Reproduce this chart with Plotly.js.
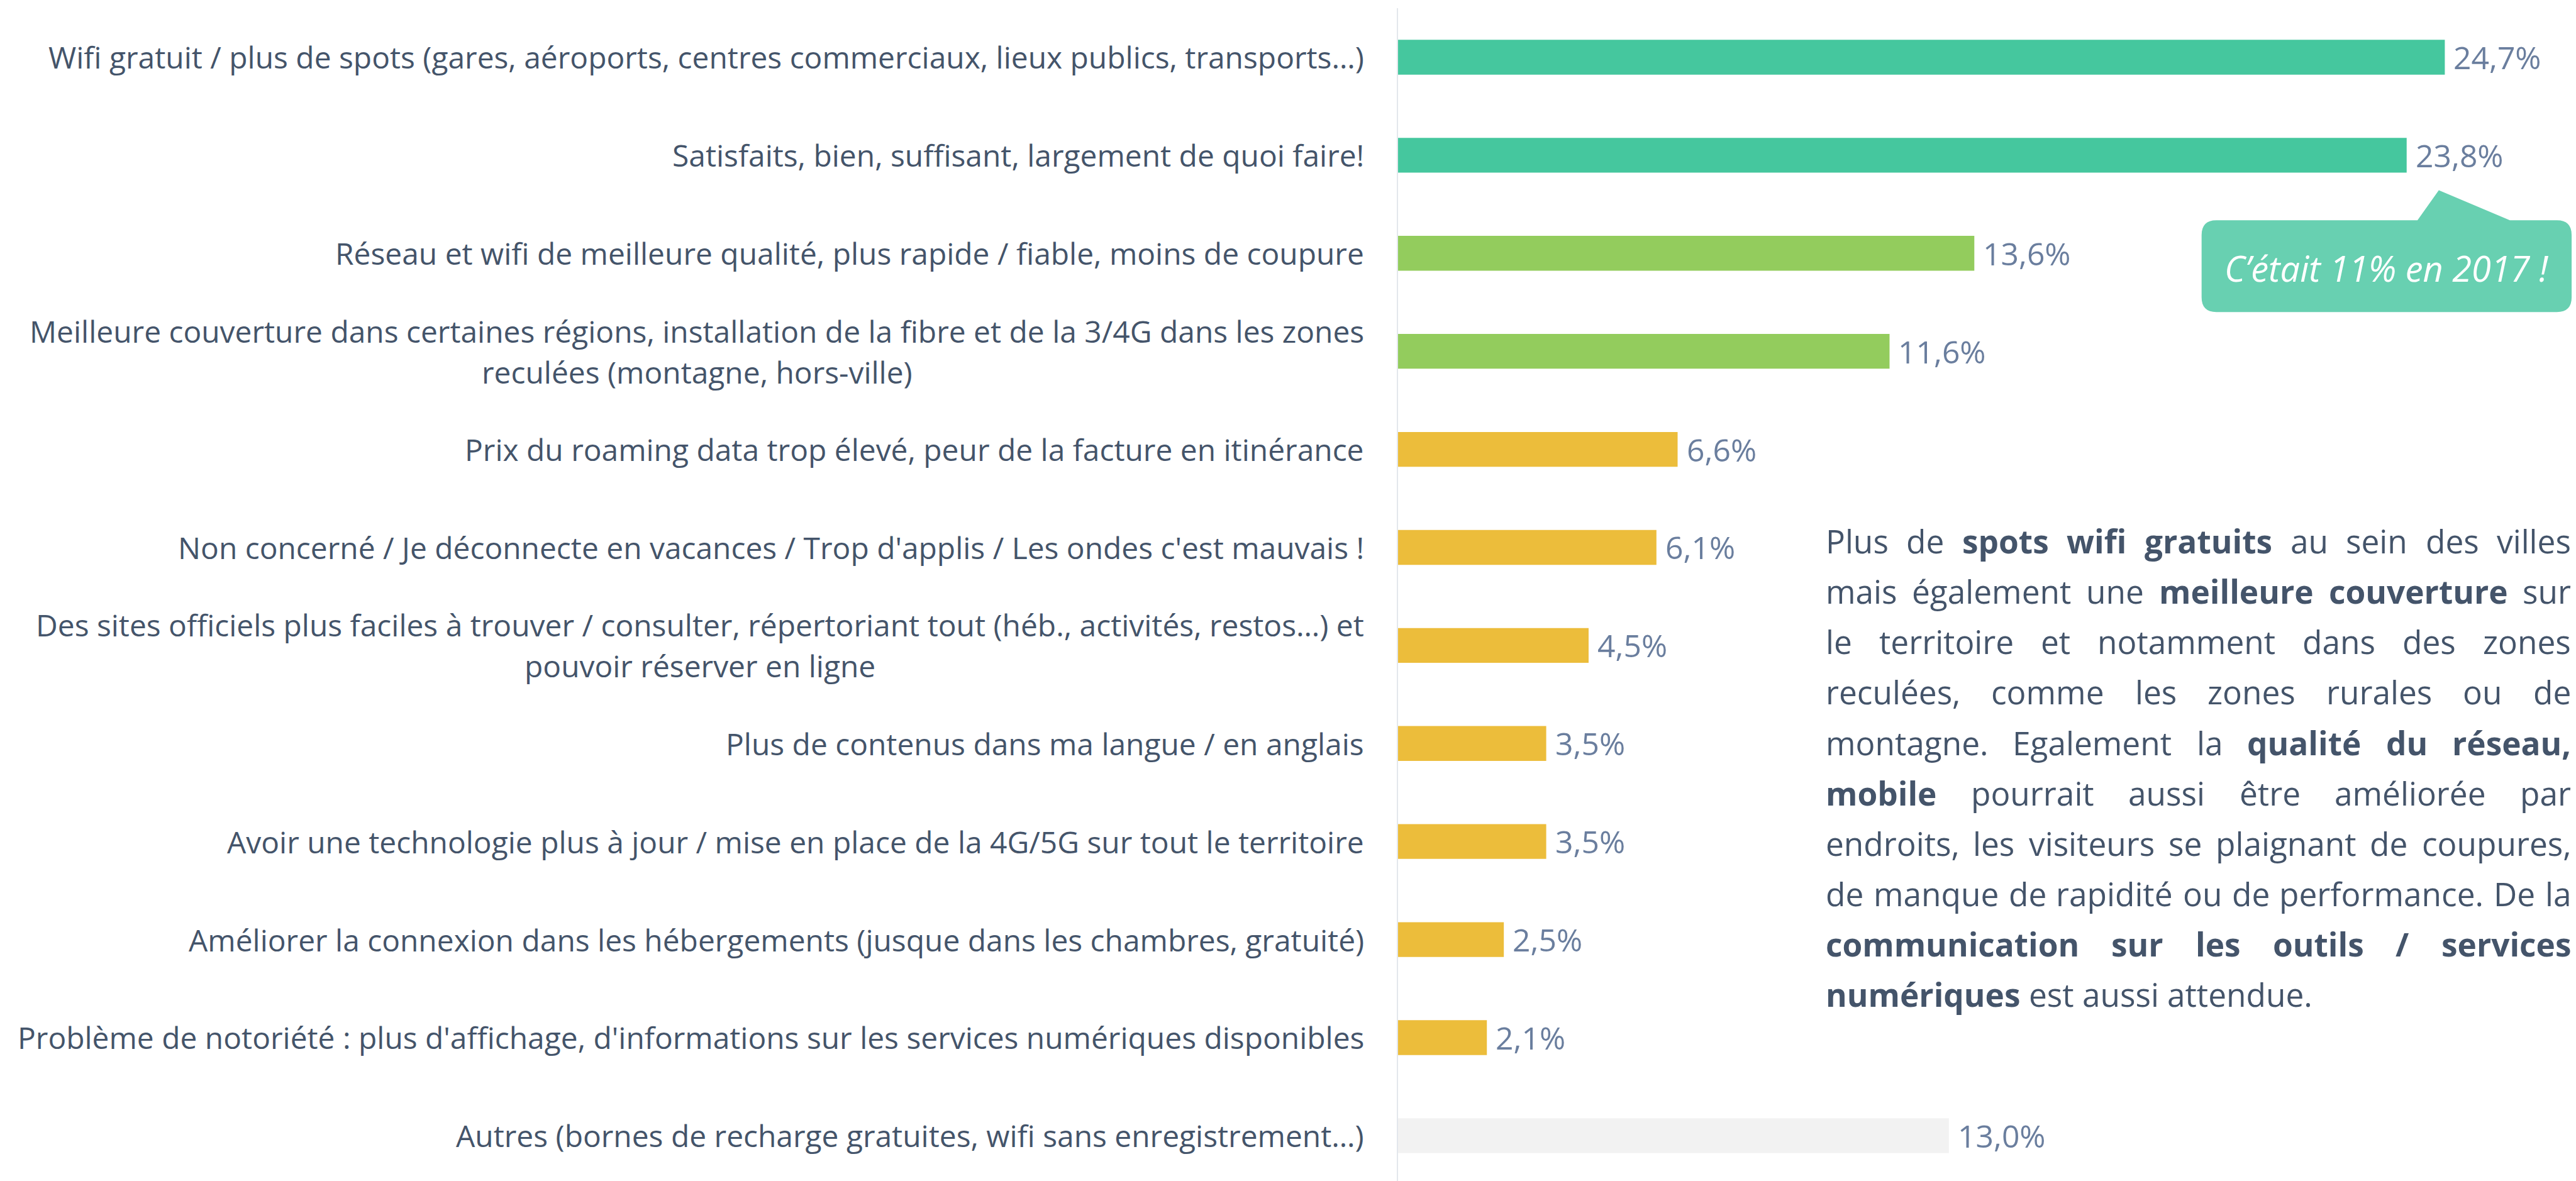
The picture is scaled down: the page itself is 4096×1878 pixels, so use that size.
<!DOCTYPE html>
<html>
<head>
<meta charset="utf-8">
<script src="https://cdn.plot.ly/plotly-3.0.1.min.js"></script>
<style>
html,body{margin:0;padding:0;background:#ffffff;overflow:hidden}
#chart{width:4096px;height:1878px}
</style>
</head>
<body>
<div id="chart"></div>
<script>
// ---------------- DATA ----------------
const categories = [
  "Wifi gratuit / plus de spots (gares, aéroports, centres commerciaux, lieux publics, transports…)",
  "Satisfaits, bien, suffisant, largement de quoi faire!",
  "Réseau et wifi de meilleure qualité, plus rapide / fiable, moins de coupure",
  "Meilleure couverture dans certaines régions, installation de la fibre et de la 3/4G dans les zones<br>reculées (montagne, hors-ville)",
  "Prix du roaming data trop élevé, peur de la facture en itinérance",
  "Non concerné / Je déconnecte en vacances / Trop d'applis / Les ondes c'est mauvais !",
  "Des sites officiels plus faciles à trouver / consulter, répertoriant tout (héb., activités, restos…) et<br>pouvoir réserver en ligne",
  "Plus de contenus dans ma langue / en anglais",
  "Avoir une technologie plus à jour / mise en place de la 4G/5G sur tout le territoire",
  "Améliorer la connexion dans les hébergements (jusque dans les chambres, gratuité)",
  "Problème de notoriété : plus d'affichage, d'informations sur les services numériques disponibles",
  "Autres (bornes de recharge gratuites, wifi sans enregistrement…)"
];
const values = [24.7, 23.8, 13.6, 11.6, 6.6, 6.1, 4.5, 3.5, 3.5, 2.5, 2.1, 13.0];
const valueLabels = ["24,7%", "23,8%", "13,6%", "11,6%", "6,6%", "6,1%", "4,5%", "3,5%", "3,5%", "2,5%", "2,1%", "13,0%"];
const calloutText = "C’était 11% en 2017 !";
const paragraphLines = [
  "Plus de <b>spots wifi gratuits</b> au sein des villes",
  "mais également une <b>meilleure couverture</b> sur",
  "le territoire et notamment dans des zones",
  "reculées, comme les zones rurales ou de",
  "montagne. Egalement la <b>qualité du réseau,</b>",
  "<b>mobile</b> pourrait aussi être améliorée par",
  "endroits, les visiteurs se plaignant de coupures,",
  "de manque de rapidité ou de performance. De la",
  "<b>communication sur les outils / services</b>",
  "<b>numériques</b> est aussi attendue."
];

// ---------------- STYLE ----------------
const barColors = ["#45c79e", "#45c79e", "#93cc5d", "#93cc5d", "#ecbd3b", "#ecbd3b",
                   "#ecbd3b", "#ecbd3b", "#ecbd3b", "#ecbd3b", "#ecbd3b", "#f2f2f2"];
const TEXT_COLOR = "#44546a";
const VALUE_COLOR = "#6a7e9e";
const CALLOUT_COLOR = "#68d0b1";
const AXIS_COLOR = "#e3e7ec";
const FONT = '"Open Sans", "Noto Sans", sans-serif';

const W = 4096, H = 1878;
const RW = 4713, RH = 2161;           // reference size
const S = W / RW;                     // 0.869

// text measuring
const ctx = document.createElement('canvas').getContext('2d');
function textWidth(txt, size, weight, style) {
  ctx.font = (style || 'normal') + ' ' + (weight || 'normal') + ' ' + size + 'px ' + FONT;
  return ctx.measureText(txt).width;
}
function plain(s) { return s.replace(/<[^>]+>/g, ''); }

// font sizes (window px), fitted to the widths measured on the reference
const labelSize = Math.min(52, 100 * (2408 * S) / textWidth(plain(categories[0]), 100));
const valueSize = labelSize * 1.04;
const paraSize = 100 * (891 * S) / (textWidth("numériques", 100, 'bold') + textWidth(" est aussi attendue.", 100));
const calloutSize = 100 * (592 * S) / textWidth(calloutText, 100, 'normal', 'italic');

// geometry in reference px
const axisX = 2557.5, axisTop = 15;
const slot = 179.38;
const labelRight = 2496;
const pctPx = 77.55;

const plotH = H * (1 - axisTop / RH);
const yBottom = -0.5 + plotH / (slot * S);
const xMax = (W - axisX * S) / (pctPx * S);

const annotations = [];

// category labels
categories.forEach(function (cat) {
  const lines = cat.split('<br>');
  const base = {
    xref: 'paper', yref: 'y', y: cat, yanchor: 'middle', showarrow: false,
    borderpad: 0, borderwidth: 0,
    font: {family: FONT, size: labelSize, color: TEXT_COLOR}
  };
  if (lines.length === 1) {
    annotations.push(Object.assign({}, base, {x: labelRight / RW, xanchor: 'right', text: lines[0]}));
  } else {
    const gap = 75 * S;
    const w1 = textWidth(lines[0], labelSize);
    annotations.push(Object.assign({}, base, {x: labelRight / RW, xanchor: 'right', text: lines[0], yshift: gap / 2}));
    annotations.push(Object.assign({}, base, {x: (labelRight * S - w1 / 2) / W, xanchor: 'center', text: lines[1], yshift: -gap / 2}));
  }
});

// value labels
values.forEach(function (v, i) {
  annotations.push({
    xref: 'x', yref: 'y', x: v, y: categories[i], xanchor: 'left', yanchor: 'middle',
    xshift: 14, showarrow: false, borderpad: 0, borderwidth: 0,
    text: valueLabels[i],
    font: {family: FONT, size: valueSize, color: VALUE_COLOR}
  });
});

// callout text
annotations.push({
  xref: 'paper', yref: 'paper', x: 4367 / RW, y: 1 - 490 / RH,
  xanchor: 'center', yanchor: 'middle', showarrow: false, borderpad: 0, borderwidth: 0,
  text: '<i>' + calloutText + '</i>',
  font: {family: FONT, size: calloutSize, color: '#ffffff'}
});

// justified paragraph (one annotation per word), kept just inside the right edge
const paraLeft = 3340 * S, paraRight = 4704 * S;
paragraphLines.forEach(function (line, k) {
  const words = [];
  let bold = false;
  line.split(/(<b>|<\/b>)/).forEach(function (seg) {
    if (seg === '<b>') { bold = true; return; }
    if (seg === '</b>') { bold = false; return; }
    seg.split(' ').forEach(function (w) { if (w.length) words.push({t: w, b: bold}); });
  });
  words.forEach(function (w) { w.w = textWidth(w.t, paraSize, w.b ? 'bold' : 'normal'); });
  const total = words.reduce(function (a, w) { return a + w.w; }, 0);
  const last = (k === paragraphLines.length - 1);
  const gap = last ? textWidth(' ', paraSize) : (paraRight - paraLeft - total) / (words.length - 1);
  const baseline = (1012.7 + 92.1 * k) * S;
  const yc = baseline - 0.385 * paraSize;
  let x = paraLeft;
  words.forEach(function (w) {
    annotations.push({
      xref: 'paper', yref: 'paper', x: x / W, y: 1 - yc / H,
      xanchor: 'left', yanchor: 'middle', showarrow: false, borderpad: 0, borderwidth: 0,
      text: w.b ? '<b>' + w.t + '</b>' : w.t,
      font: {family: FONT, size: paraSize, color: TEXT_COLOR}
    });
    x += w.w + gap;
  });
});

// callout bubble shape (reference px -> paper)
function P(x, y) { return (x / RW).toFixed(6) + ',' + (1 - y / RH).toFixed(6); }
const bx0 = 4028, bx1 = 4705, by0 = 403, by1 = 571, rr = 27;
const px0 = 4423, px1 = 4592, apx = 4462, apy = 348;
const bubble = 'M ' + P(bx0 + rr, by0) + ' L ' + P(px0, by0) + ' L ' + P(apx, apy) + ' L ' + P(px1, by0) +
  ' L ' + P(bx1 - rr, by0) + ' Q ' + P(bx1, by0) + ' ' + P(bx1, by0 + rr) +
  ' L ' + P(bx1, by1 - rr) + ' Q ' + P(bx1, by1) + ' ' + P(bx1 - rr, by1) +
  ' L ' + P(bx0 + rr, by1) + ' Q ' + P(bx0, by1) + ' ' + P(bx0, by1 - rr) +
  ' L ' + P(bx0, by0 + rr) + ' Q ' + P(bx0, by0) + ' ' + P(bx0 + rr, by0) + ' Z';

const trace = {
  type: 'bar', orientation: 'h',
  x: values, y: categories,
  width: 0.355,
  marker: {color: barColors, line: {width: 0}},
  hoverinfo: 'skip'
};

const layout = {
  width: W, height: H,
  margin: {l: 0, r: 0, t: 0, b: 0, pad: 0},
  paper_bgcolor: '#ffffff', plot_bgcolor: '#ffffff',
  showlegend: false,
  font: {family: FONT, color: TEXT_COLOR},
  xaxis: {
    domain: [axisX / RW, 1], range: [0, xMax], autorange: false,
    visible: false, showgrid: false, zeroline: false, fixedrange: true
  },
  yaxis: {
    type: 'category', categoryorder: 'array', categoryarray: categories,
    domain: [0, 1 - axisTop / RH], range: [yBottom, -0.5], autorange: false,
    showticklabels: false, ticks: '', showgrid: false, zeroline: false,
    showline: true, linecolor: AXIS_COLOR, linewidth: 2, fixedrange: true
  },
  shapes: [{type: 'path', xref: 'paper', yref: 'paper', path: bubble,
            fillcolor: CALLOUT_COLOR, line: {width: 0}, layer: 'above'}],
  annotations: annotations
};

Plotly.newPlot('chart', [trace], layout, {staticPlot: true, displayModeBar: false});
</script>
</body>
</html>
